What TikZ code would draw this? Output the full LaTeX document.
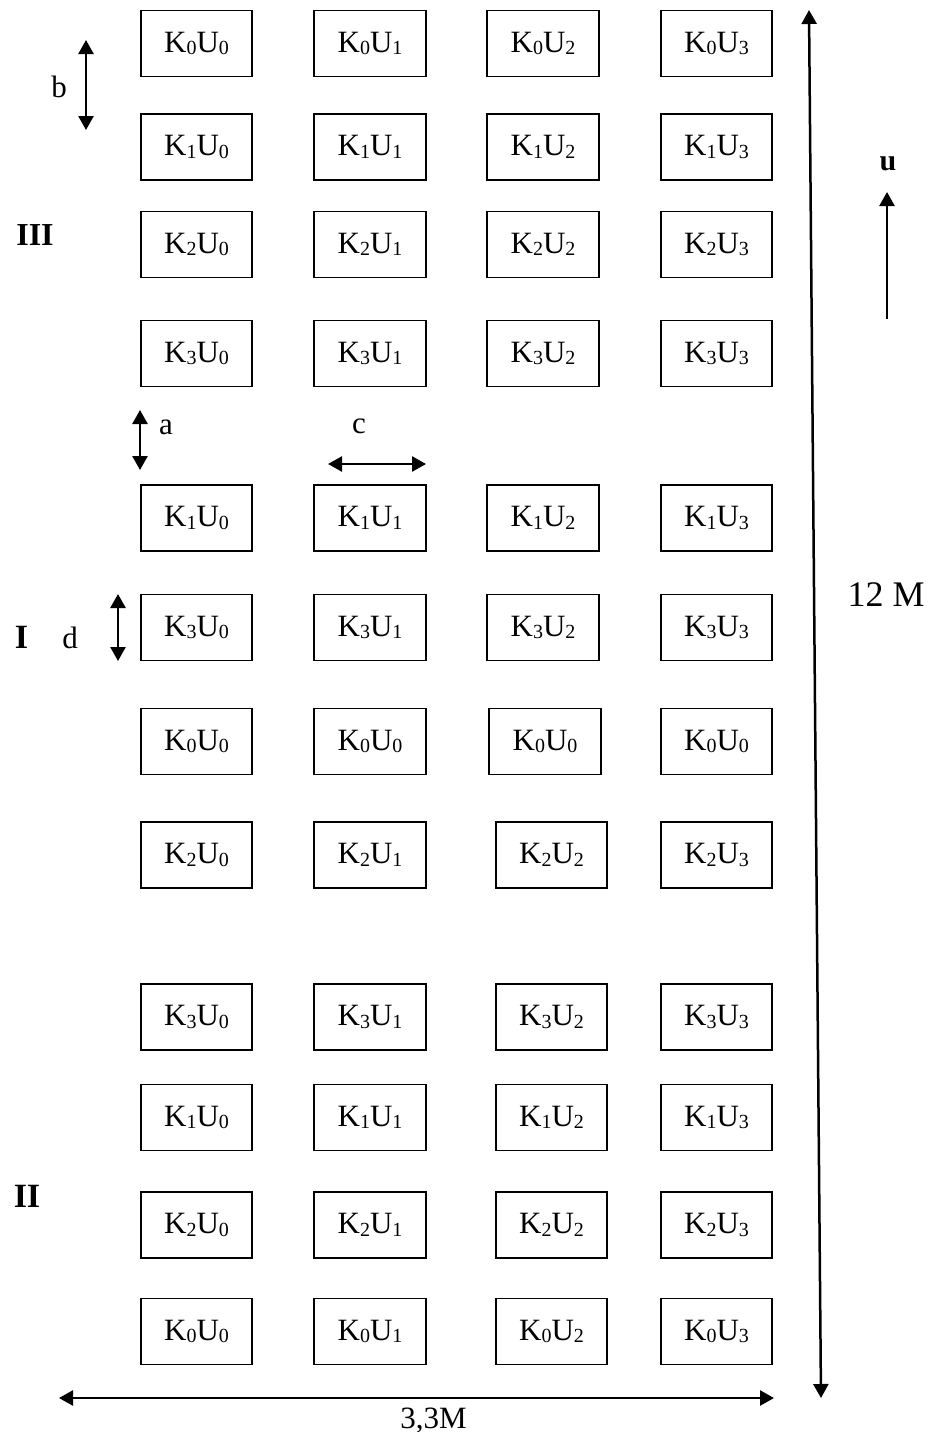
\documentclass[tikz,border=0pt]{standalone}
\usepackage{fontspec}
\setmainfont{Liberation Serif}
\usetikzlibrary{arrows.meta}
% cell caption K_k U_u with lowered small indices
\newcommand\kucell[2]{K\raisebox{-2.5pt}{\fontsize{20}{20}\selectfont #1}U\raisebox{-2.5pt}{\fontsize{20}{20}\selectfont #2}}
\begin{document}
\begin{tikzpicture}[x=1pt,y=-1pt,
  cell/.style={draw,line width=1.8pt,minimum width=111.5pt,minimum height=66pt,
    inner sep=0pt,font=\fontsize{31}{36}\selectfont},
  tip/.tip={Triangle[width=15pt,length=14pt]},
  dim/.style={line width=2.5pt,tip-tip},
  onedim/.style={line width=2.5pt,-tip},
  lbl/.style={inner sep=0pt,font=\fontsize{31}{36}\selectfont},
  sect/.style={inner sep=0pt,anchor=base,font=\fontsize{34}{40}\selectfont\bfseries}]
\useasboundingbox (0,0) rectangle (929,1432);

% grid of cells: row / centre y / K index / x of third column
\foreach \r/\y/\k/\cx in {1/43.5/0/543, 2/147/1/543, 3/244.5/2/543, 4/353.5/3/543,
    5/518/1/543, 6/627.5/3/543, 8/855/2/551.5, 9/1017/3/551.5,
    10/1117.5/1/551.5, 11/1225/2/551.5, 12/1331.5/0/551.5} {
  \node[cell] (r\r-c0) at (196.5,\y) {\kucell{\k}{0}};
  \node[cell] (r\r-c1) at (370,\y)   {\kucell{\k}{1}};
  \node[cell] (r\r-c2) at (\cx,\y)   {\kucell{\k}{2}};
  \node[cell] (r\r-c3) at (716.5,\y) {\kucell{\k}{3}};
}
\node[cell] (r7-c0) at (196.5,741.5) {\kucell{0}{0}};
\node[cell] (r7-c1) at (370,741.5)   {\kucell{0}{0}};
\node[cell] (r7-c2) at (545,741.5)   {\kucell{0}{0}};
\node[cell] (r7-c3) at (716.5,741.5) {\kucell{0}{0}};

% section labels
\node[sect,font=\fontsize{32}{38}\selectfont\bfseries] (secIII) at (35,245) {III};
\node[sect] (secI)  at (21.5,648) {I};
\node[sect] (secII) at (27,1207) {II};

% spacing dimensions
\coordinate (bTop) at (86,40);   \coordinate (bBot) at (86,130);
\draw[dim] (bTop) -- (bBot);
\node[lbl] (bLbl) at (59,87) {b};

\coordinate (aTop) at (140,410); \coordinate (aBot) at (140,470);
\draw[dim] (aTop) -- (aBot);
\node[lbl] (aLbl) at (166,427) {a};

\coordinate (cL) at (328,464);   \coordinate (cR) at (426,464);
\draw[dim] (cL) -- (cR);
\node[lbl] (cLbl) at (359,426) {c};

\coordinate (dTop) at (118,594); \coordinate (dBot) at (118,661);
\draw[dim] (dTop) -- (dBot);
\node[lbl] (dLbl) at (70,637.5) {d};

% overall dimensions
\coordinate (hTop) at (809,10);  \coordinate (hBot) at (821,1398);
\draw[dim] (hTop) -- (hBot);
\node[inner sep=0pt,anchor=base,font=\fontsize{36}{42}\selectfont] (hLbl) at (886,606) {12 M};

\coordinate (wL) at (59,1398);   \coordinate (wR) at (774,1398);
\draw[dim] (wL) -- (wR);
\node[inner sep=0pt,anchor=base,font=\fontsize{31}{36}\selectfont] (wLbl) at (433.5,1428) {3,3M};

% direction of u
\coordinate (uFrom) at (887,319); \coordinate (uTo) at (887,192);
\draw[onedim] (uFrom) -- (uTo);
\node[lbl,font=\fontsize{30}{36}\selectfont\bfseries] (uLbl) at (888,163.5) {u};
\end{tikzpicture}
\end{document}
